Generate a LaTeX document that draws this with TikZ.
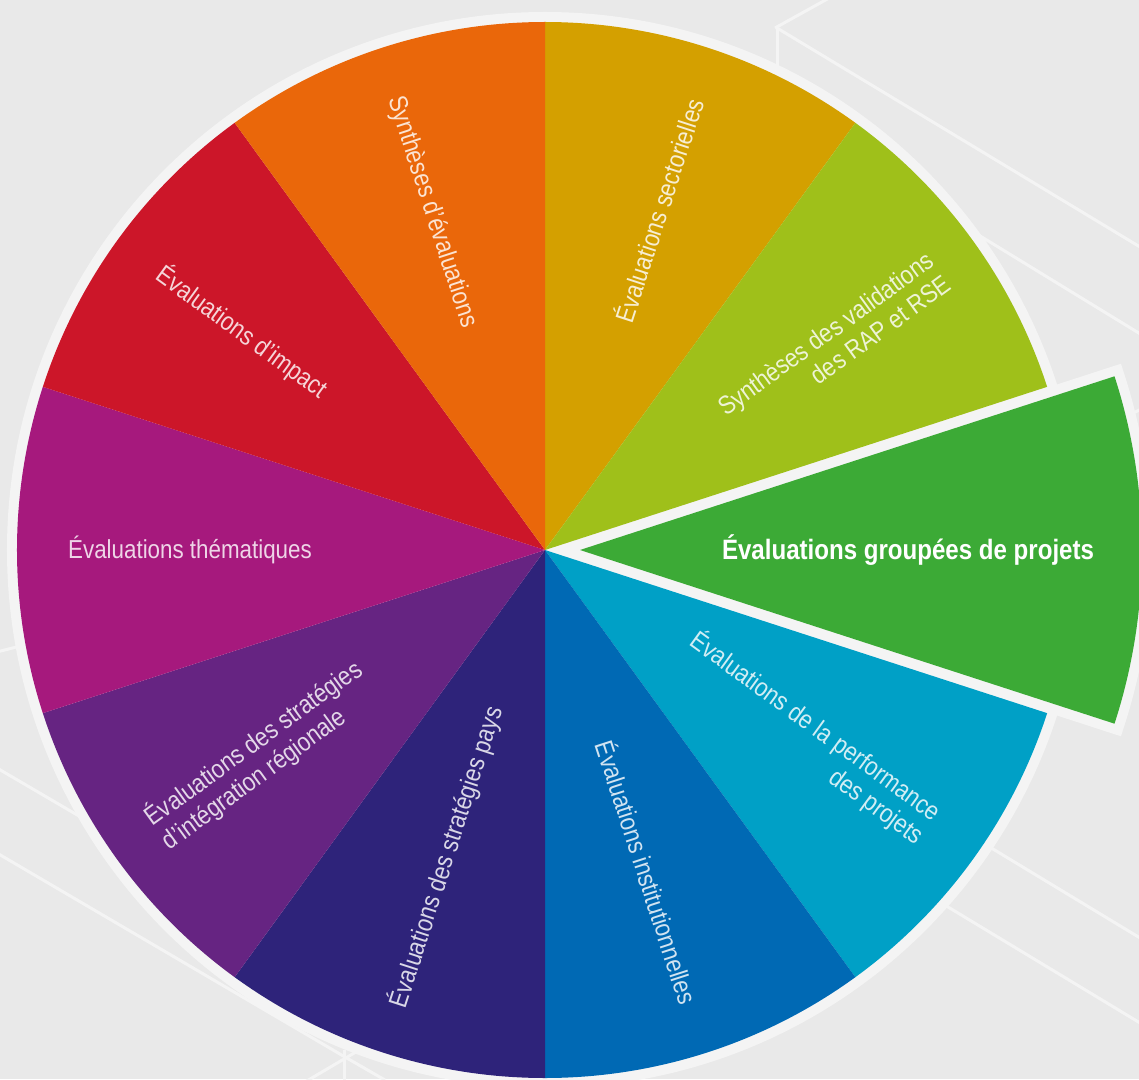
\documentclass[tikz,border=0pt]{standalone}
\usepackage{fontspec}
\setmainfont{Liberation Sans}[FakeStretch=0.86]
\definecolor{bg}{HTML}{E9E9E9}
\definecolor{ring}{HTML}{F4F4F4}
\definecolor{cgold}{HTML}{D4A000}
\definecolor{cygreen}{HTML}{9FC01A}
\definecolor{cgreen}{HTML}{3CAA36}
\definecolor{ccyan}{HTML}{00A0C6}
\definecolor{cblue}{HTML}{0069B4}
\definecolor{cnavy}{HTML}{2E237A}
\definecolor{cpurple}{HTML}{662482}
\definecolor{cmagenta}{HTML}{A6197D}
\definecolor{cred}{HTML}{CC1629}
\definecolor{corange}{HTML}{EA670A}
\tikzset{
  bgline/.style={draw=ring, line width=3pt},
  lbl/.style={text=white, text opacity=0.82, font=\fontsize{26}{29}\selectfont, inner sep=0pt},
  lblbold/.style={text=white, font=\fontsize{28}{31}\selectfont\bfseries, inner sep=0pt}
}
\begin{document}
\begin{tikzpicture}[x=1pt,y=1pt]
\useasboundingbox (-545,-529) rectangle (594,550);
\clip (-545,-529) rectangle (594,550);
\fill[bg] (-545,-529) rectangle (594,550);
% background perspective lines
\draw[bgline] (230,522) -- (295,558);
\draw[bgline] (232,522) -- (232,475);
\draw[bgline] (232,522) -- (615,291);
\draw[bgline] (355,363) -- (615,204);
\draw[bgline] (405,-273) -- (615,-400);
\draw[bgline] (355,-328) -- (615,-485);
\draw[bgline] (-560,-105) -- (-505,-91);
\draw[bgline] (-560,-211) -- (-425,-290);
\draw[bgline] (-560,-296) -- (-200,-507) -- (-160,-530);
\draw[bgline] (-200,-500) -- (-200,-535);
\draw[bgline] (-240,-532) -- (-145,-476);
\draw[bgline] (555,120) -- (600,143);
% pie ring
\fill[ring] (0,0) circle[radius=538pt];
% sectors
\foreach \a/\b/\c in {54/90/cgold, 18/54/cygreen, -54/-18/ccyan, -90/-54/cblue,
  -126/-90/cnavy, -162/-126/cpurple, 162/198/cmagenta, 126/162/cred, 90/126/corange}
  \fill[\c] (0,0) -- (\a:528pt) arc[start angle=\a, end angle=\b, radius=528pt] -- cycle;
% exploded sector
\draw[ring, line width=20pt, line join=miter]
  (35,0) -- ++(-18:562pt) arc[start angle=-18, end angle=18, radius=562pt] -- cycle;
\fill[cgreen]
  (35,0) -- ++(-18:562pt) arc[start angle=-18, end angle=18, radius=562pt] -- cycle;
% labels
\node[lbl, rotate=72] (sect) at (113,340) {Évaluations sectorielles};
\node[lbl, rotate=-72] (synth) at (-113,338) {Synthèses d’évaluations};
\node[lbl, rotate=36, align=right] (rap) at (289,205) {Synthèses des validations\\des RAP et RSE};
\node[lblbold] (grp) at (363,0) {Évaluations groupées de projets};
\node[lbl, rotate=-36, align=right] (perf) at (262,-188) {Évaluations de la performance\\des projets};
\node[lbl, rotate=-72] (inst) at (103,-322) {Évaluations institutionnelles};
\node[lbl, rotate=72] (pays) at (-99,-307) {Évaluations des stratégies pays};
\node[lbl, rotate=36, align=left] (integ) at (-283,-205) {Évaluations des stratégies\\d’intégration régionale};
\node[lbl] (them) at (-355,0) {Évaluations thématiques};
\node[lbl, rotate=-36] (imp) at (-303,218) {Évaluations d’impact};
\end{tikzpicture}
\end{document}
